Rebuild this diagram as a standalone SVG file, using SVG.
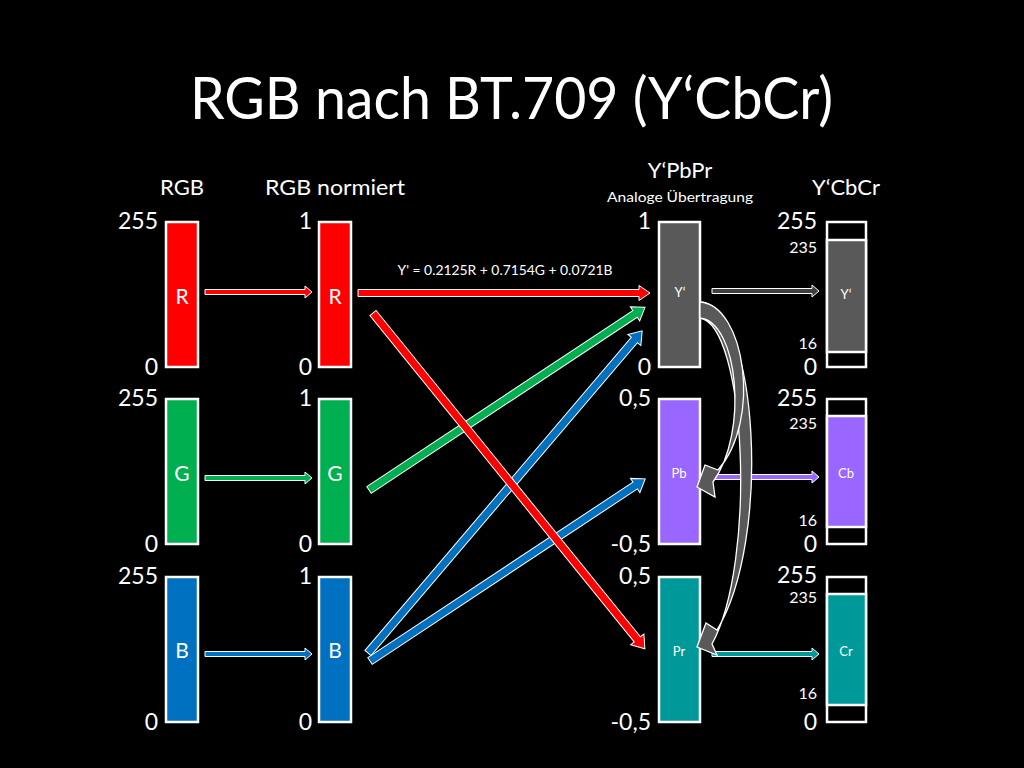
<svg xmlns="http://www.w3.org/2000/svg" xmlns:xlink="http://www.w3.org/1999/xlink" width="1024" height="768" viewBox="0 0 1024 768">
<style>
text{font-family:Lato,"Liberation Sans",Arial,sans-serif;fill:#fff}
.box{stroke:#fff;stroke-width:2.5}
.ax{font-size:23px;text-anchor:end}
.sm{font-size:16px;text-anchor:end}
.hd{font-size:22px;text-anchor:middle}
.lb{font-size:21px;text-anchor:middle}
.ls{font-size:13px;text-anchor:middle}
.ar{stroke:#fff;stroke-width:1}
.cv{fill:#595959;stroke:#fff;stroke-width:1.3}
</style>
<defs>
<path id="thin" d="M0,-2.5 H100 V-6 L107,0 L100,6 V2.5 H0 Z"/>
</defs>
<rect width="1024" height="768" fill="#000"/>
<text x="190" y="119" font-size="59" textLength="643" lengthAdjust="spacingAndGlyphs">RGB nach BT.709 (Y‘CbCr)</text>

<g id="headers">
<text class="hd" x="182" y="195">RGB</text>
<text class="hd" x="335" y="195" textLength="140" lengthAdjust="spacingAndGlyphs">RGB normiert</text>
<text class="hd" x="680" y="178">Y‘PbPr</text>
<text x="680" y="202" font-size="14" text-anchor="middle" textLength="146" lengthAdjust="spacingAndGlyphs">Analoge Übertragung</text>
<text class="hd" x="846" y="195">Y‘CbCr</text>
</g>

<g id="node-R">
<rect class="box" x="166" y="222" width="32" height="145" fill="#ff0000"/>
<text class="lb" x="182" y="304">R</text>
<text class="ax" x="158" y="229">255</text>
<text class="ax" x="158" y="375">0</text>
</g>
<g id="node-G">
<rect class="box" x="166" y="399" width="32" height="145" fill="#00b050"/>
<text class="lb" x="182" y="481">G</text>
<text class="ax" x="158" y="406">255</text>
<text class="ax" x="158" y="552">0</text>
</g>
<g id="node-B">
<rect class="box" x="166" y="577" width="32" height="145" fill="#0070c0"/>
<text class="lb" x="182" y="658">B</text>
<text class="ax" x="158" y="584">255</text>
<text class="ax" x="158" y="730">0</text>
</g>

<g id="node-Rn">
<rect class="box" x="319" y="222" width="32" height="145" fill="#ff0000"/>
<text class="lb" x="335" y="304">R</text>
<text class="ax" x="312" y="229">1</text>
<text class="ax" x="312" y="375">0</text>
</g>
<g id="node-Gn">
<rect class="box" x="319" y="399" width="32" height="145" fill="#00b050"/>
<text class="lb" x="335" y="481">G</text>
<text class="ax" x="312" y="406">1</text>
<text class="ax" x="312" y="552">0</text>
</g>
<g id="node-Bn">
<rect class="box" x="319" y="577" width="32" height="145" fill="#0070c0"/>
<text class="lb" x="335" y="658">B</text>
<text class="ax" x="312" y="584">1</text>
<text class="ax" x="312" y="730">0</text>
</g>

<g id="node-Yp">
<rect class="box" x="659" y="222" width="41" height="145" fill="#595959"/>
<text class="ls" x="680" y="297">Y‘</text>
<text class="ax" x="651" y="229">1</text>
<text class="ax" x="651" y="375">0</text>
</g>
<g id="node-Pb">
<rect class="box" x="659" y="399" width="41" height="145" fill="#9966ff"/>
<text class="ls" x="679" y="478">Pb</text>
<text class="ax" x="651" y="406">0,5</text>
<text class="ax" x="651" y="552">-0,5</text>
</g>
<g id="node-Pr">
<rect class="box" x="659" y="577" width="41" height="145" fill="#009999"/>
<text class="ls" x="679" y="656">Pr</text>
<text class="ax" x="651" y="584">0,5</text>
<text class="ax" x="651" y="730">-0,5</text>
</g>

<g id="node-Yc">
<rect class="box" x="827" y="222" width="39" height="145" fill="#000"/>
<rect class="box" x="827" y="240" width="39" height="112" fill="#595959"/>
<text class="ls" x="846" y="299">Y‘</text>
<text class="ax" x="817" y="229">255</text>
<text class="sm" x="817" y="253">235</text>
<text class="sm" x="817" y="349">16</text>
<text class="ax" x="817" y="375">0</text>
</g>
<g id="node-Cb">
<rect class="box" x="827" y="399" width="39" height="145" fill="#000"/>
<text class="ax" x="817" y="406">255</text>
<rect class="box" x="827" y="416" width="39" height="111" fill="#9966ff"/>
<text class="ls" x="846" y="478">Cb</text>
<text class="sm" x="817" y="429">235</text>
<text class="sm" x="817" y="526">16</text>
<text class="ax" x="817" y="552">0</text>
</g>
<g id="node-Cr">
<rect class="box" x="827" y="577" width="39" height="145" fill="#000"/>
<rect class="box" x="827" y="594" width="39" height="111" fill="#009999"/>
<text class="ls" x="846" y="656">Cr</text>
<text class="ax" x="817" y="583">255</text>
<text class="sm" x="817" y="603">235</text>
<text class="sm" x="817" y="699">16</text>
<text class="ax" x="817" y="730">0</text>
</g>

<g id="connectors">
<use xlink:href="#thin" href="#thin" class="ar" fill="#ff0000" transform="translate(205,292)"/>
<use xlink:href="#thin" href="#thin" class="ar" fill="#00b050" transform="translate(205,478)"/>
<use xlink:href="#thin" href="#thin" class="ar" fill="#0070c0" transform="translate(205,654)"/>
<use xlink:href="#thin" href="#thin" class="ar" fill="#404040" transform="translate(712,291)"/>
<use xlink:href="#thin" href="#thin" class="ar" fill="#9966ff" transform="translate(712,477)"/>
<use xlink:href="#thin" href="#thin" class="ar" fill="#009999" transform="translate(712,654)"/>

<path class="ar" fill="#00b050" transform="translate(369,490) rotate(-33.5)" d="M0,-4 H319 V-8.5 L331,0 L319,8.5 V4 H0 Z"/>
<path class="ar" fill="#0070c0" transform="translate(368,653) rotate(-49.6)" d="M0,-4 H411 V-8.5 L423,0 L411,8.5 V4 H0 Z"/>
<path class="ar" fill="#0070c0" transform="translate(370,661) rotate(-33.5)" d="M0,-4 H318 V-8.5 L330,0 L318,8.5 V4 H0 Z"/>
<path class="ar" fill="#ff0000" transform="translate(358,293)" d="M0,-3.5 H281 V-7.5 L292,0 L281,7.5 V3.5 H0 Z"/>
<path class="ar" fill="#ff0000" transform="translate(373,313) rotate(51)" d="M0,-4 H420 V-8.5 L432,0 L420,8.5 V4 H0 Z"/>
<text x="505" y="275" font-size="14" text-anchor="middle" textLength="215" lengthAdjust="spacingAndGlyphs">Y' = 0.2125R + 0.7154G + 0.0721B</text>

<path class="cv" d="M700,302 C758,305 772,540 717,630 L706,623 L697,647 L717,655 L712,644 C757,562 746,325 700,318 Z"/>
<path class="cv" d="M700,302 C745,305 762,420 718,470 L705,465 L697,487 L715,497 L713,482 C749,432 738,322 700,318 Z"/>
</g>
</svg>
